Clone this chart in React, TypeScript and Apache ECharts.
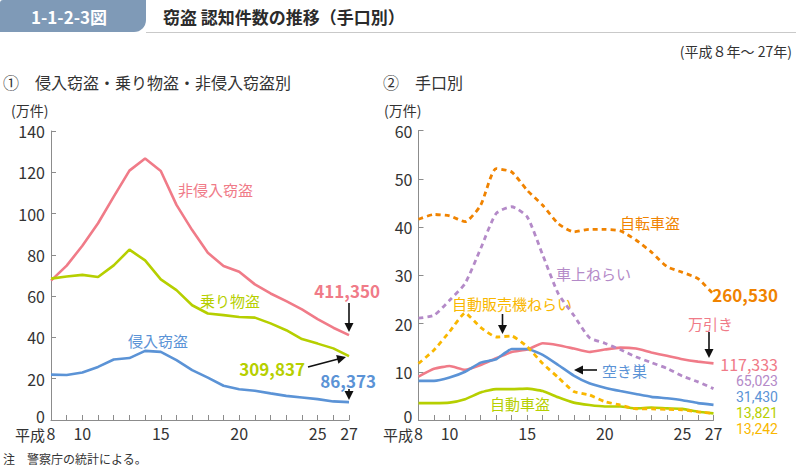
import React, { useEffect, useRef } from "react";
import * as echarts from "echarts";

const years = [8, 9, 10, 11, 12, 13, 14, 15, 16, 17, 18, 19, 20, 21, 22, 23, 24, 25, 26, 27];
const xLabelYears = [8, 10, 15, 20, 25, 27];
const leftYTicks = { min: 0, max: 140, step: 20 };
const rightYTicks = { min: 0, max: 60, step: 10 };

// ① 侵入窃盗・乗り物盗・非侵入窃盗別 (万件)
const nonIntrusive = [67.5, 74.8, 84.4, 95.3, 108.2, 120.8, 126.7, 120.6, 104.2, 92.0, 81.0, 74.6, 71.8, 65.7, 61.3, 57.6, 53.6, 48.9, 44.7, 41.135];
const vehicle = [68.5, 69.5, 70.3, 69.3, 74.9, 82.5, 77.3, 68.1, 62.9, 55.6, 51.6, 50.8, 49.9, 49.6, 46.8, 43.5, 39.2, 37.0, 34.7, 30.98];
const intrusive = [22.0, 21.8, 23.0, 25.7, 29.3, 30.0, 33.5, 33.0, 29.0, 24.2, 20.5, 16.6, 14.9, 14.2, 12.9, 11.7, 10.9, 10.1, 9.0, 8.64];

// ② 手口別 (万件)
const bicycle = [41.6, 42.6, 42.3, 41.1, 44.5, 52.1, 51.4, 47.6, 44.5, 40.7, 39.0, 39.5, 39.5, 39.2, 37.3, 34.8, 31.8, 30.6, 29.3, 26.05];
const carBreakIn = [21.1, 21.7, 24.8, 28.3, 35.5, 42.8, 44.2, 42.1, 34.2, 26.2, 21.7, 17.1, 15.9, 14.6, 13.1, 11.9, 10.7, 9.1, 7.9, 6.5];
const vending = [11.7, 14.5, 18.3, 22.2, 19.2, 17.2, 17.4, 15.2, 11.7, 8.8, 5.9, 5.2, 3.8, 3.1, 2.3, 2.3, 2.2, 2.1, 1.7, 1.32];
const shoplifting = [9.0, 10.6, 11.2, 10.4, 11.4, 12.8, 14.1, 14.6, 15.9, 15.5, 14.8, 14.1, 14.6, 15.0, 14.8, 14.0, 13.3, 12.6, 12.1, 11.73];
const burglary = [8.1, 8.1, 8.8, 10.0, 11.9, 12.6, 14.7, 14.7, 13.5, 11.4, 9.2, 7.6, 6.7, 6.0, 5.4, 4.8, 4.5, 4.1, 3.5, 3.14];
const carTheft = [3.5, 3.5, 3.6, 4.3, 5.7, 6.4, 6.4, 6.5, 6.0, 4.7, 3.6, 3.1, 2.8, 2.8, 2.4, 2.6, 2.4, 2.3, 1.7, 1.38];

const FONT = '"Noto Sans CJK JP", "Noto Sans", sans-serif';
const NUMFONT = 'Roboto, "Noto Sans", sans-serif';
const C = {
  pink: "#f07b88",
  lime: "#b6cf00",
  blue: "#5b93d6",
  orange: "#f08300",
  purple: "#b48ac8",
  yellow: "#f9b700",
  text: "#333333",
  axis: "#8c8c8c",
  tab: "#7f9ab7",
};

const pairs = (vals: number[]) => years.map((y, i) => [y, vals[i]]);

function text(x: number, y: number, t: string, fill: string, size: number, opts: any = {}) {
  return {
    type: "text",
    x,
    y,
    silent: true,
    style: {
      text: t,
      fill,
      font: `${opts.weight || "normal"} ${size}px ${opts.family || FONT}`,
      textAlign: opts.align || "left",
      textVerticalAlign: "middle",
      verticalAlign: "middle",
    },
  };
}

function arrow(x1: number, y1: number, x2: number, y2: number) {
  const len = Math.hypot(x2 - x1, y2 - y1);
  const ux = (x2 - x1) / len;
  const uy = (y2 - y1) / len;
  const hl = 9;
  const hw = 4.5;
  const bx = x2 - ux * hl;
  const by = y2 - uy * hl;
  return [
    { type: "line", silent: true, shape: { x1, y1, x2: bx + ux, y2: by + uy }, style: { stroke: "#111", lineWidth: 1.6 } },
    {
      type: "polygon",
      silent: true,
      shape: { points: [[x2, y2], [bx - uy * hw, by + ux * hw], [bx + uy * hw, by - ux * hw]] },
      style: { fill: "#111" },
    },
  ];
}

function xAxis(gridIndex: number) {
  return {
    gridIndex,
    type: "value",
    min: 8,
    max: 27,
    interval: 1,
    axisLine: { show: true, lineStyle: { color: C.axis, width: 1 } },
    axisTick: { show: true, inside: true, length: 5, lineStyle: { color: C.axis } },
    splitLine: { show: false },
    axisLabel: {
      formatter: (v: number) => (xLabelYears.includes(v) ? String(v) : ""),
      color: C.text,
      fontSize: 16,
      fontFamily: FONT,
      margin: 5,
    },
  };
}

function yAxis(gridIndex: number, t: { min: number; max: number; step: number }) {
  return {
    gridIndex,
    type: "value",
    min: t.min,
    max: t.max,
    interval: t.step,
    axisLine: { show: true, lineStyle: { color: C.axis, width: 1 } },
    axisTick: { show: true, inside: true, length: 5, lineStyle: { color: C.axis } },
    splitLine: { show: false },
    axisLabel: {
      color: C.text,
      fontSize: 16,
      fontFamily: FONT,
      margin: 6,
      formatter: (v: number) => (v === 0 ? "{z|0}" : String(v)),
      rich: { z: { fontSize: 16, fontFamily: FONT, color: C.text, padding: [0, 0, 8, 0] } },
    },
  };
}

function line(idx: number, vals: number[], color: string, dashed = false, smooth: number | boolean = false) {
  return {
    type: "line",
    xAxisIndex: idx,
    yAxisIndex: idx,
    data: pairs(vals),
    showSymbol: false,
    symbol: "none",
    smooth,
    lineStyle: dashed
      ? { color, width: 2.8, type: [5, 4] }
      : { color, width: 2.6 },
    z: dashed ? 3 : 2,
  };
}

export default function App() {
  const ref = useRef<HTMLDivElement>(null);
  useEffect(() => {
    if (!ref.current) return;
    const chart = echarts.init(ref.current, null, { renderer: "svg" });
    const graphic: any[] = [
      { type: "rect", silent: true, shape: { x: 0, y: 0, width: 146, height: 32, r: [3, 0, 12, 0] }, style: { fill: C.tab } },
      { type: "line", silent: true, shape: { x1: 146, y1: 32.5, x2: 796, y2: 32.5 }, style: { stroke: "#c9c9c9", lineWidth: 1 } },
      text(31, 16, "1-1-2-3図", "#ffffff", 17, { weight: "bold" }),
      text(163, 16, "窃盗 認知件数の推移（手口別）", "#2b2b2b", 17, { weight: "bold" }),
      text(792, 51, "(平成８年～ 27年)", C.text, 14, { align: "right" }),
      text(3, 82, "①　侵入窃盗・乗り物盗・非侵入窃盗別", C.text, 16),
      text(383, 82, "②　手口別", C.text, 16),
      text(11, 110, "(万件)", C.text, 14),
      text(384, 110, "(万件)", C.text, 14),
      text(45, 434, "平成", C.text, 15, { align: "right" }),
      text(413, 434, "平成", C.text, 15, { align: "right" }),
      text(3, 458, "注　警察庁の統計による。", C.text, 12),
      // left annotations
      text(178, 189, "非侵入窃盗", C.pink, 15),
      text(200, 300, "乗り物盗", C.lime, 15),
      text(128, 340, "侵入窃盗", C.blue, 15),
      text(380, 290, "411,350", C.pink, 17, { align: "right", weight: "bold" }),
      text(305, 368, "309,837", C.lime, 17, { align: "right", weight: "bold" }),
      text(376, 380, "86,373", C.blue, 17, { align: "right", weight: "bold" }),
      ...arrow(349, 303, 349, 332),
      ...arrow(308, 367, 346, 357),
      ...arrow(349, 389, 349, 400),
      // right annotations
      text(620, 222, "自転車盗", C.orange, 15),
      text(556, 273, "車上ねらい", C.purple, 15),
      text(452, 303, "自動販売機ねらい", C.yellow, 15),
      text(688, 323, "万引き", C.pink, 15),
      text(602, 370, "空き巣", C.blue, 15),
      text(490, 403, "自動車盗", C.lime, 15),
      ...arrow(502.5, 314, 502.5, 334),
      ...arrow(709, 332, 709, 358),
      ...arrow(597, 370, 574, 370),
      text(778, 294, "260,530", C.orange, 17, { align: "right", weight: "bold" }),
      text(778, 364, "117,333", C.pink, 16, { align: "right" }),
      text(778, 381, "65,023", C.purple, 14, { align: "right", family: NUMFONT }),
      text(778, 397, "31,430", C.blue, 14, { align: "right", family: NUMFONT }),
      text(778, 413, "13,821", C.lime, 14, { align: "right", family: NUMFONT }),
      text(778, 429, "13,242", C.yellow, 14, { align: "right", family: NUMFONT }),
    ];
    chart.setOption({
      animation: false,
      textStyle: { fontFamily: FONT },
      grid: [
        { left: 51, top: 131, width: 298, height: 289 },
        { left: 418.5, top: 130.5, width: 295, height: 289.5 },
      ],
      xAxis: [xAxis(0), xAxis(1)],
      yAxis: [yAxis(0, leftYTicks), yAxis(1, rightYTicks)],
      series: [
        line(0, nonIntrusive, C.pink),
        line(0, vehicle, C.lime),
        line(0, intrusive, C.blue),
        line(1, bicycle, C.orange, true, 0.2),
        line(1, carBreakIn, C.purple, true, 0.2),
        line(1, shoplifting, C.pink, false, 0.15),
        line(1, burglary, C.blue, false, 0.15),
        line(1, carTheft, C.lime, false, 0.15),
        line(1, vending, C.yellow, true, 0.15),
      ],
      graphic,
    });
    return () => chart.dispose();
  }, []);
  return (
    <div
      ref={ref}
      style={{ position: "fixed", left: 0, top: 0, width: 796, height: 467, background: "#ffffff" }}
    />
  );
}
